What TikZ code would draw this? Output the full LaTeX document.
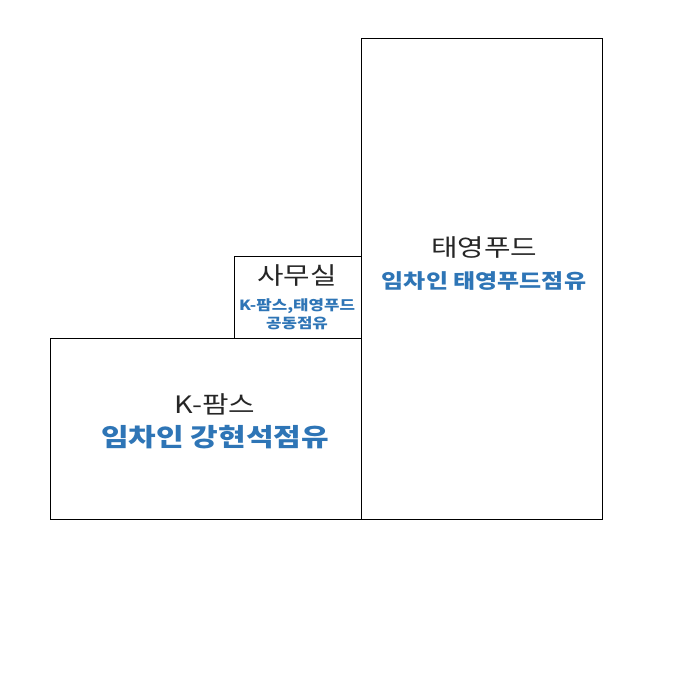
\documentclass[tikz,border=0pt]{standalone}
\usepackage{fontspec}
\setmainfont{Noto Sans CJK KR}[FakeStretch=1.2]
\definecolor{blu}{HTML}{2E75B6}
\begin{document}
\begin{tikzpicture}[x=1pt,y=-1pt,
  room/.style={draw=black,line width=1pt},
  ttl/.style={inner sep=0pt,anchor=center,text=black!85},
  sub/.style={inner sep=0pt,anchor=center,text=blu,font=\bfseries}]
\useasboundingbox (0,0) rectangle (700,675);
\fill[white] (0,0) rectangle (700,675);
\draw[room] (361,38) rectangle (602,519);
\draw[room] (234,256) rectangle (361,338);
\draw[room] (50,338) rectangle (361,519);
\node[ttl,font=\fontsize{24}{26}\selectfont] (tyt) at (484,248) {태영푸드};
\node[sub,font=\bfseries\fontsize{20}{22}\selectfont] (tys) at (484,281) {임차인 태영푸드점유};
\node[ttl,font=\fontsize{24}{26}\selectfont] (ofT) at (297,276) {사무실};
\node[sub,font=\bfseries\fontsize{14}{18}\selectfont,align=center] (ofS) at (297,314) {K-팜스,태영푸드\\공동점유};
\node[ttl,font=\fontsize{24}{26}\selectfont] (kpt) at (215,404) {K-팜스};
\node[sub,font=\bfseries\fontsize{25}{27}\selectfont] (kps) at (215,437) {임차인 강현석점유};
\end{tikzpicture}
\end{document}
